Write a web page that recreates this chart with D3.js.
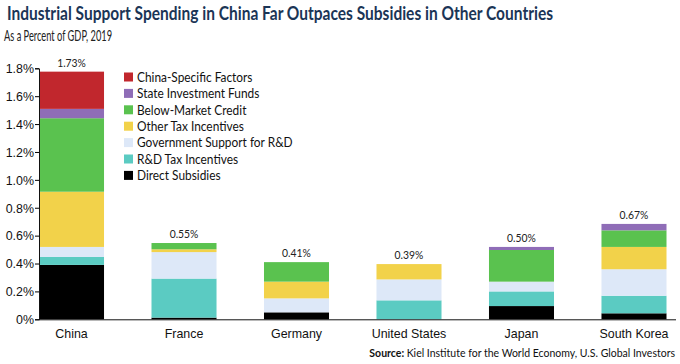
<!DOCTYPE html>
<html>
<head>
<meta charset="utf-8">
<script src="https://cdn.jsdelivr.net/npm/d3@7"></script>
<style>
  body { margin: 0; background: #fff; }
  svg { display: block; font-family: Lato, 'Open Sans', sans-serif; }
</style>
</head>
<body>
<div id="chart"></div>
<script>
// values are percent of GDP
const countries = ['China', 'France', 'Germany', 'United States', 'Japan', 'South Korea']
const totals = [1.73, 0.55, 0.41, 0.39, 0.5, 0.67]

const directSubsidies = [0.39, 0.012, 0.05, 0.0, 0.095, 0.043]
const rdTaxIncentives = [0.057, 0.28, 0.0, 0.136, 0.105, 0.126]
const govSupportRD = [0.072, 0.19, 0.1, 0.15, 0.07, 0.19]
const otherTaxIncentives = [0.396, 0.02, 0.12, 0.11, 0.0, 0.16]
const belowMarketCredit = [0.527, 0.045, 0.14, 0.0, 0.227, 0.119]
const stateInvestmentFunds = [0.067, 0.0, 0.0, 0.0, 0.022, 0.046]
const chinaSpecific = [0.267, 0.0, 0.0, 0.0, 0.0, 0.0]

const seriesNames = [
  'Direct Subsidies',
  'R&D Tax Incentives',
  'Government Support for R&D',
  'Other Tax Incentives',
  'Below-Market Credit',
  'State Investment Funds',
  'China-Specific Factors'
]
const seriesValues = [
  directSubsidies,
  rdTaxIncentives,
  govSupportRD,
  otherTaxIncentives,
  belowMarketCredit,
  stateInvestmentFunds,
  chinaSpecific
]
const yTicks = [0, 0.2, 0.4, 0.6, 0.8, 1.0, 1.2, 1.4, 1.6, 1.8]

const colors = ['#000000', '#5bcbc2', '#dde8f8', '#f2d24a', '#5ac24f', '#8f6db7', '#c1272d']

const width = 680
const height = 364
const margin = { top: 68, left: 39, right: 4, bottom: 45 }

const svg = d3
  .select('#chart')
  .append('svg')
  .attr('width', width)
  .attr('height', height)

// squeeze text a bit, the original uses a condensed face
function narrow(sel, k) {
  sel.each(function() {
    const w = this.getComputedTextLength()
    d3.select(this)
      .attr('textLength', w * k)
      .attr('lengthAdjust', 'spacingAndGlyphs')
  })
}

// build rows for the stack
const rows = countries.map((c, i) => {
  const row = { country: c, total: totals[i] }
  seriesNames.forEach((s, j) => (row[s] = seriesValues[j][i]))
  return row
})

const stack = d3.stack().keys(seriesNames)
const stacked = stack(rows)

const xScale = d3
  .scaleBand()
  .domain(countries)
  .range([margin.left, 666.5])
  .paddingInner(0.422)
  .paddingOuter(0)

const yScale = d3
  .scaleLinear()
  .domain([0, 1.8])
  .range([height - margin.bottom + 0.3, margin.top + 0.3])

const colorScale = d3.scaleOrdinal().domain(seriesNames).range(colors)

// title
svg
  .append('text')
  .attr('x', 7)
  .attr('y', 20)
  .attr('textLength', 546)
  .attr('lengthAdjust', 'spacingAndGlyphs')
  .style('font-size', '18px')
  .style('font-weight', 'bold')
  .attr('fill', '#1b3556')
  .text('Industrial Support Spending in China Far Outpaces Subsidies in Other Countries')

svg
  .append('text')
  .attr('x', 4)
  .attr('y', 41)
  .attr('textLength', 108)
  .attr('lengthAdjust', 'spacingAndGlyphs')
  .style('font-size', '15px')
  .attr('fill', '#222')
  .text('As a Percent of GDP, 2019')

// bars
svg
  .selectAll('.layer')
  .data(stacked)
  .enter()
  .append('g')
  .attr('class', 'layer')
  .attr('fill', d => colorScale(d.key))
  .selectAll('rect')
  .data(d => d)
  .enter()
  .append('rect')
  .attr('x', d => xScale(d.data.country))
  .attr('width', xScale.bandwidth())
  .attr('y', d => yScale(d[1]))
  .attr('height', d => yScale(d[0]) - yScale(d[1]))

// total labels
svg
  .selectAll('.total')
  .data(rows)
  .enter()
  .append('text')
  .attr('class', 'total')
  .attr('x', d => xScale(d.country) + xScale.bandwidth() / 2)
  .attr('y', d => yScale(d3.sum(seriesNames, s => d[s])) - 5)
  .attr('text-anchor', 'middle')
  .style('font-size', '11.5px')
  .attr('fill', '#222')
  .text(d => d.total.toFixed(2) + '%')
  .call(narrow, 0.9)

// y axis
const yAxis = d3
  .axisLeft(yScale)
  .tickValues(yTicks)
  .tickSize(4)
  .tickFormat(d => (d === 0 ? '0%' : d.toFixed(1) + '%'))

svg
  .append('g')
  .attr('transform', `translate(${margin.left},0)`)
  .call(yAxis)
  .call(g => g.selectAll('text').style('font-size', '13.5px').attr('fill', '#111').attr('x', -5))
  .call(g => g.selectAll('text').call(narrow, 0.92))
  .call(g => g.select('.domain').attr('stroke', '#111'))

// x axis
const xAxis = d3.axisBottom(xScale).tickSize(0).tickPadding(9)

svg
  .append('g')
  .attr('transform', `translate(0,${yScale(0)})`)
  .call(xAxis)
  .call(g => g.selectAll('text').style('font-size', '13.5px').attr('fill', '#111'))
  .call(g => g.selectAll('text').call(narrow, 0.92))
  .call(g => g.select('.domain').attr('d', `M${margin.left},0.5H676`).attr('stroke', '#111'))

// legend
const legendNames = seriesNames.slice().reverse()
const legend = svg
  .selectAll('.legend')
  .data(legendNames)
  .enter()
  .append('g')
  .attr('class', 'legend')
  .attr('transform', (d, i) => `translate(124,${77 + i * 16.4})`)

legend
  .append('rect')
  .attr('x', 0)
  .attr('y', -4.5)
  .attr('width', 9)
  .attr('height', 9)
  .attr('fill', d => colorScale(d))

legend
  .append('text')
  .attr('x', 13)
  .attr('y', 0)
  .attr('dy', '0.35em')
  .style('font-size', '13.5px')
  .attr('fill', '#111')
  .text(d => d)
  .call(narrow, 0.88)

// source
const source = svg
  .append('text')
  .attr('x', 675)
  .attr('y', 357)
  .attr('text-anchor', 'end')
  .style('font-size', '10.5px')
  .attr('fill', '#111')

source.append('tspan').style('font-weight', 'bold').text('Source: ')
source.append('tspan').text('Kiel Institute for the World Economy, U.S. Global Investors')
</script>
</body>
</html>
